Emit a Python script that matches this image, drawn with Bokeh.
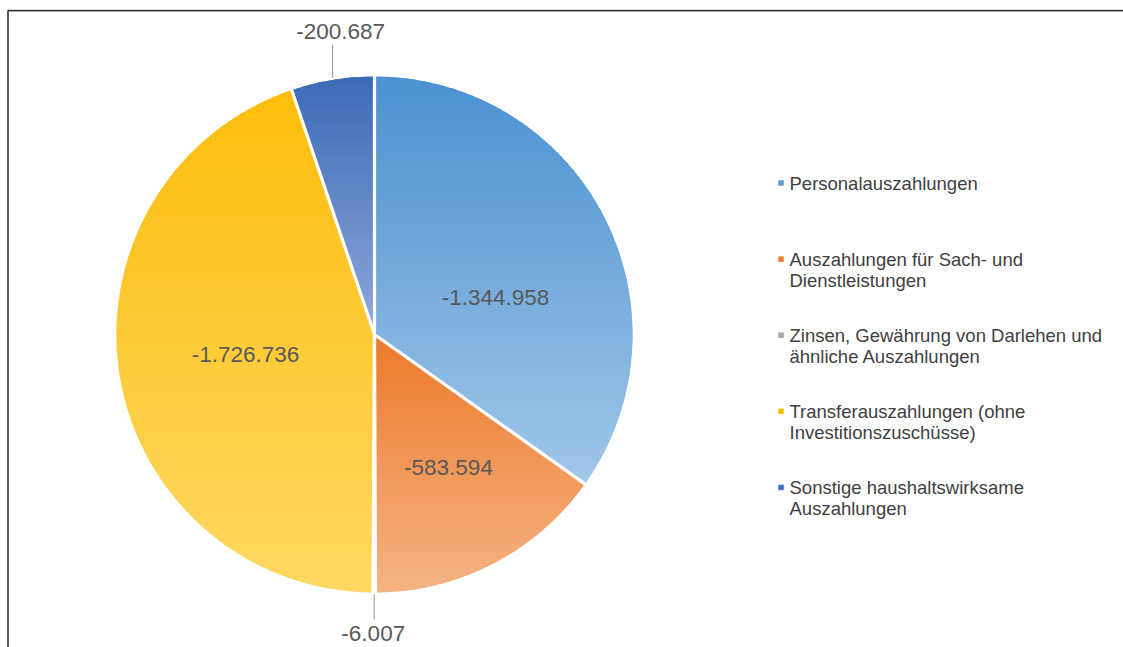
import numpy as np
from bokeh.plotting import figure
from bokeh.models import Range1d
from bokeh.core.properties import value
from bokeh.embed import file_html
from bokeh.resources import INLINE

# ---------------- data ----------------
categories = [
    "Personalauszahlungen",
    "Auszahlungen für Sach- und\nDienstleistungen",
    "Zinsen, Gewährung von Darlehen und\nähnliche Auszahlungen",
    "Transferauszahlungen (ohne\nInvestitionszuschüsse)",
    "Sonstige haushaltswirksame\nAuszahlungen",
]
values = [-1344958, -583594, -6007, -1726736, -200687]

# ---------------- styles ----------------
legend_colors = ["#5b9bd5", "#ed7d31", "#a5a5a5", "#ffc000", "#4472c4"]
top_colors = ["#4a91d0", "#ec7a2b", "#a0a0a0", "#fdbd0c", "#3b6ab6"]
bottom_colors = ["#a0c6e9", "#f5b383", "#cccccc", "#fed862", "#8ea8db"]

# label layout: mode, angle nudge (deg), radial distance (px)
label_mode = ["in", "in", "out", "in", "out"]
label_nudge = [10.3, -1.7, 0.0, 0.4, 0.0]
label_dist = [126.5, 152.0, 0.0, 130.5, 0.0]
out_leader_len = [0, 0, 25, 33, 33]
out_label_gap = [0, 0, 14, 0, 13]
out_label_dx = [0, 0, -1, 0, 8]

W, H = 1123, 647


def X(sx):
    return sx


def Y(sy):
    return H - sy


cx, cy, R = X(374), Y(334), 258.0

fmt = [f"{v:,}".replace(",", ".") for v in values]
absv = np.abs(np.array(values, dtype=float))
frac = absv / absv.sum()
cum = np.concatenate([[0.0], np.cumsum(frac)])


def hex2rgb(h):
    h = h.lstrip("#")
    return np.array([int(h[i:i + 2], 16) for i in (0, 2, 4)], dtype=float)


def rgb2hex(c):
    c = np.clip(np.round(c), 0, 255).astype(int)
    return "#%02x%02x%02x" % tuple(c)


def clip_poly(pts, yv, keep_above):
    out = []
    n = len(pts)
    for i in range(n):
        a = pts[i]
        b = pts[(i + 1) % n]
        ina = a[1] >= yv if keep_above else a[1] <= yv
        inb = b[1] >= yv if keep_above else b[1] <= yv
        if ina:
            out.append(a)
        if ina != inb:
            t = (yv - a[1]) / (b[1] - a[1])
            out.append((a[0] + t * (b[0] - a[0]), yv))
    return out


p = figure(width=W, height=H, output_backend="svg", toolbar_location=None,
           x_range=Range1d(0, W), y_range=Range1d(0, H), min_border=0)
p.axis.visible = False
p.grid.visible = False
p.outline_line_color = None
p.background_fill_color = "white"

# chart frame (extends beyond the visible area on the right and bottom)
p.quad(left=[X(7.5)], right=[W + 60], top=[Y(10.2)], bottom=[-60],
       fill_color=None, line_color="#3c3c3c", line_width=1.7)

# gradient-filled slices (horizontal bands, overlapping to avoid seams)
xs, ys, cols = [], [], []
NB = 120
for i in range(len(values)):
    t0 = 2 * np.pi * cum[i]
    t1 = 2 * np.pi * cum[i + 1]
    n = max(3, int((t1 - t0) / (2 * np.pi) * 720))
    th = np.linspace(t0, t1, n)
    poly = [(cx, cy)] + [(cx + R * np.sin(t), cy + R * np.cos(t)) for t in th]
    yy = [q[1] for q in poly]
    ymax, ymin = max(yy), min(yy)
    ctop, cbot = hex2rgb(top_colors[i]), hex2rgb(bottom_colors[i])
    edges = np.linspace(ymax, ymin, NB + 1)
    step = (ymax - ymin) / NB
    for k in range(NB):
        hi = edges[k] + 0.6 * step if k > 0 else edges[k]
        lo = edges[k + 1]
        band = clip_poly(poly, lo, True)
        if len(band) < 3:
            continue
        band = clip_poly(band, hi, False)
        if len(band) < 3:
            continue
        f = (k + 0.5) / NB
        xs.append([q[0] for q in band])
        ys.append([q[1] for q in band])
        cols.append(rgb2hex(ctop + (cbot - ctop) * f))
p.patches(xs, ys, fill_color=cols, line_color=None)

# white separators between slices
bt = 2 * np.pi * cum[:-1]
p.segment(x0=[cx] * len(bt), y0=[cy] * len(bt),
          x1=list(cx + (R + 3) * np.sin(bt)), y1=list(cy + (R + 3) * np.cos(bt)),
          line_color="white", line_width=3.2)

# data labels
in_x, in_y, in_t = [], [], []
out_x, out_y, out_t = [], [], []
lx0, ly0, lx1, ly1 = [], [], [], []
for i in range(len(values)):
    mid = np.pi * (cum[i] + cum[i + 1])
    if label_mode[i] == "in":
        a = mid + np.radians(label_nudge[i])
        in_x.append(cx + label_dist[i] * np.sin(a))
        in_y.append(cy + label_dist[i] * np.cos(a))
        in_t.append(fmt[i])
    else:
        ax = cx + R * np.sin(mid)
        ay = cy + R * np.cos(mid)
        sgn = 1.0 if np.cos(mid) > 0 else -1.0
        y_start = ay + sgn * 2
        y_end = y_start + sgn * out_leader_len[i]
        lx0.append(ax); ly0.append(y_start); lx1.append(ax); ly1.append(y_end)
        out_x.append(ax + out_label_dx[i])
        out_y.append(y_end + sgn * out_label_gap[i])
        out_t.append(fmt[i])

p.segment(x0=lx0, y0=ly0, x1=lx1, y1=ly1, line_color="#a6a6a6", line_width=1.2)
p.text(x=in_x, y=in_y, text=in_t, text_align="center", text_baseline="middle",
       text_font=value("Liberation Sans"), text_font_size="22.5px", text_color="#595959")
p.text(x=out_x, y=out_y, text=out_t, text_align="center", text_baseline="middle",
       text_font=value("Liberation Sans"), text_font_size="22.5px", text_color="#595959")

# legend
leg_top = Y(182.5)
leg_step = 76.1
line_step = 21.0
mk_x, mk_y = [], []
tx, ty, tt = [], [], []
for i, name in enumerate(categories):
    y0 = leg_top - i * leg_step
    mk_x.append(X(780.5))
    mk_y.append(y0)
    for j, line in enumerate(name.split("\n")):
        tx.append(X(789))
        ty.append(y0 - j * line_step)
        tt.append(line)
p.scatter(x=mk_x, y=mk_y, marker="square", size=5.5, fill_color=legend_colors,
          line_color=None)
p.text(x=tx, y=ty, text=tt, text_align="left", text_baseline="middle",
       text_font=value("Liberation Sans"), text_font_size="18.5px", text_color="#404040")

open("out.html", "w").write(file_html(p, INLINE))
